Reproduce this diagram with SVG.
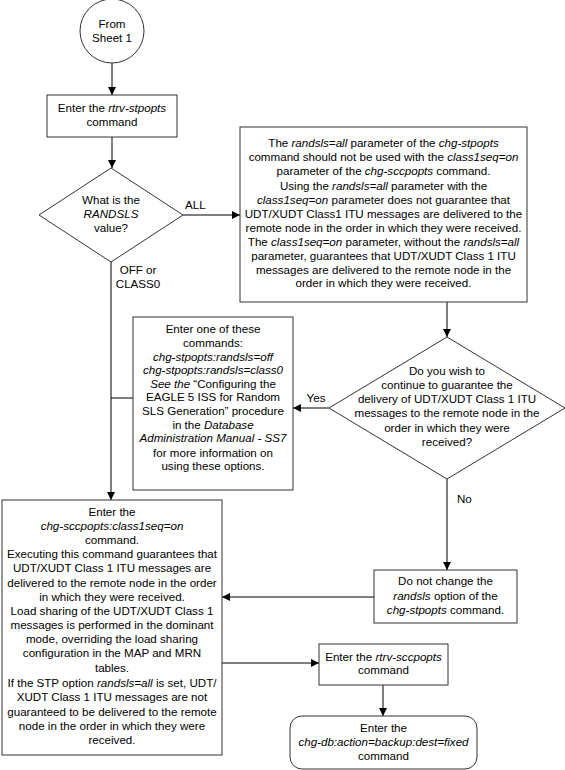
<svg xmlns="http://www.w3.org/2000/svg" width="565" height="770" viewBox="0 0 565 770">
<style>
text{font-family:"Liberation Sans",Arial,sans-serif;font-size:11.6px;fill:#000;text-anchor:middle}
.l{text-anchor:start}
.i{font-style:italic}
.s{fill:#fff;stroke:#333;stroke-width:1}
.c{fill:none;stroke:#000;stroke-width:1}
</style>
<defs>
<marker id="a" viewBox="0 0 10 10" refX="10" refY="5" markerWidth="9" markerHeight="8" markerUnits="userSpaceOnUse" orient="auto">
<path d="M0,0L10,5L0,10z" fill="#000"/>
</marker>
</defs>
<rect width="565" height="770" fill="#fff"/>
<g id="connectors">
<line class="c" x1="112" y1="63" x2="112" y2="95" marker-end="url(#a)"/>
<line class="c" x1="112" y1="137" x2="112" y2="168" marker-end="url(#a)"/>
<line class="c" x1="183" y1="215" x2="240" y2="215" marker-end="url(#a)"/>
<line class="c" x1="111" y1="262" x2="111" y2="500" marker-end="url(#a)" stroke="#555"/>
<line class="c" x1="133" y1="398" x2="111" y2="398"/>
<line class="c" x1="447" y1="302" x2="447" y2="337" marker-end="url(#a)"/>
<line class="c" x1="329" y1="408" x2="293" y2="408" marker-end="url(#a)"/>
<line class="c" x1="447" y1="479" x2="447" y2="570" marker-end="url(#a)"/>
<line class="c" x1="374" y1="597" x2="222" y2="597" marker-end="url(#a)"/>
<line class="c" x1="222" y1="663" x2="319" y2="663" marker-end="url(#a)"/>
<line class="c" x1="383" y1="685" x2="383" y2="716" marker-end="url(#a)"/>
</g>
<g id="start">
<circle class="s" cx="112" cy="31" r="32"/>
<text x="112" y="28">From</text>
<text x="112" y="42">Sheet 1</text>
</g>
<g id="rtrv-stpopts">
<rect class="s" x="47" y="95" width="130" height="42"/>
<text x="112" y="112">Enter the <tspan class="i">rtrv-stpopts</tspan></text>
<text x="112" y="126">command</text>
</g>
<g id="randsls-decision">
<path class="s" d="M111,168L183,215L111,262L39,215z"/>
<text x="111" y="204">What is the</text>
<text x="111" y="218" class="i">RANDSLS</text>
<text x="111" y="232">value?</text>
</g>
<g id="warning">
<rect class="s" x="240" y="127" width="287" height="175"/>
<text x="383.5" y="147">The <tspan class="i">randsls=all</tspan> parameter of the <tspan class="i">chg-stpopts</tspan></text>
<text x="383.5" y="161">command should not be used with the <tspan class="i">class1seq=on</tspan></text>
<text x="383.5" y="175">parameter of the <tspan class="i">chg-sccpopts</tspan> command.</text>
<text x="383.5" y="190">Using the <tspan class="i">randsls=all</tspan> parameter with the</text>
<text x="383.5" y="204"><tspan class="i">class1seq=on</tspan> parameter does not guarantee that</text>
<text x="383.5" y="218">UDT/XUDT Class1 ITU messages are delivered to the</text>
<text x="383.5" y="232">remote node in the order in which they were received.</text>
<text x="383.5" y="246">The <tspan class="i">class1seq=on</tspan> parameter, without the <tspan class="i">randsls=all</tspan></text>
<text x="383.5" y="260">parameter, guarantees that UDT/XUDT Class 1 ITU</text>
<text x="383.5" y="274">messages are delivered to the remote node in the</text>
<text x="383.5" y="287">order in which they were received.</text>
</g>
<g id="continue-decision">
<path class="s" d="M447,337L565,408L447,479L329,408z"/>
<text x="447" y="375">Do you wish to</text>
<text x="447" y="389">continue to guarantee the</text>
<text x="447" y="403">delivery of UDT/XUDT Class 1 ITU</text>
<text x="447" y="417">messages to the remote node in the</text>
<text x="447" y="432">order in which they were</text>
<text x="447" y="446">received?</text>
</g>
<g id="change-randsls">
<rect class="s" x="133" y="317" width="160" height="173"/>
<text x="213" y="333">Enter one of these</text>
<text x="213" y="347">commands:</text>
<text x="213" y="361" class="i">chg-stpopts:randsls=off</text>
<text x="213" y="374" class="i">chg-stpopts:randsls=class0</text>
<text x="213" y="388"><tspan class="i">See the</tspan> “Configuring the</text>
<text x="213" y="401">EAGLE 5 ISS for Random</text>
<text x="213" y="415">SLS Generation” procedure</text>
<text x="213" y="429">in the <tspan class="i">Database</tspan></text>
<text x="213" y="442" class="i">Administration Manual - SS7</text>
<text x="213" y="457">for more information on</text>
<text x="213" y="470">using these options.</text>
</g>
<g id="no-change">
<rect class="s" x="374" y="570" width="143" height="53"/>
<text x="445.5" y="585">Do not change the</text>
<text x="445.5" y="600"><tspan class="i">randsls</tspan> option of the</text>
<text x="445.5" y="614"><tspan class="i">chg-stpopts</tspan> command.</text>
</g>
<g id="chg-sccpopts">
<rect class="s" x="2" y="500" width="220" height="255"/>
<text x="112" y="516">Enter the</text>
<text x="112" y="530" class="i">chg-sccpopts:class1seq=on</text>
<text x="112" y="544">command.</text>
<text x="112" y="558">Executing this command guarantees that</text>
<text x="112" y="572">UDT/XUDT Class 1 ITU messages are</text>
<text x="112" y="587">delivered to the remote node in the order</text>
<text x="112" y="601">in which they were received.</text>
<text x="112" y="615">Load sharing of the UDT/XUDT Class 1</text>
<text x="112" y="629">messages is performed in the dominant</text>
<text x="112" y="643">mode, overriding the load sharing</text>
<text x="112" y="657">configuration in the MAP and MRN</text>
<text x="112" y="672">tables.</text>
<text x="112" y="687">If the STP option <tspan class="i">randsls=all</tspan> is set, UDT/</text>
<text x="112" y="701">XUDT Class 1 ITU messages are not</text>
<text x="112" y="716">guaranteed to be delivered to the remote</text>
<text x="112" y="730">node in the order in which they were</text>
<text x="112" y="744">received.</text>
</g>
<g id="rtrv-sccpopts">
<rect class="s" x="319" y="644" width="129" height="41"/>
<text x="383.5" y="661">Enter the <tspan class="i">rtrv-sccpopts</tspan></text>
<text x="383.5" y="674">command</text>
</g>
<g id="backup">
<rect class="s" x="290" y="716" width="187" height="53" rx="12" ry="12"/>
<text x="383.5" y="732">Enter the</text>
<text x="383.5" y="746" class="i">chg-db:action=backup:dest=fixed</text>
<text x="383.5" y="760">command</text>
</g>
<g id="connector-labels">
<text class="l" x="185" y="209">ALL</text>
<text x="138" y="274">OFF or</text>
<text x="138" y="288">CLASS0</text>
<text x="316" y="402">Yes</text>
<text class="l" x="457" y="503">No</text>
</g>
</svg>
